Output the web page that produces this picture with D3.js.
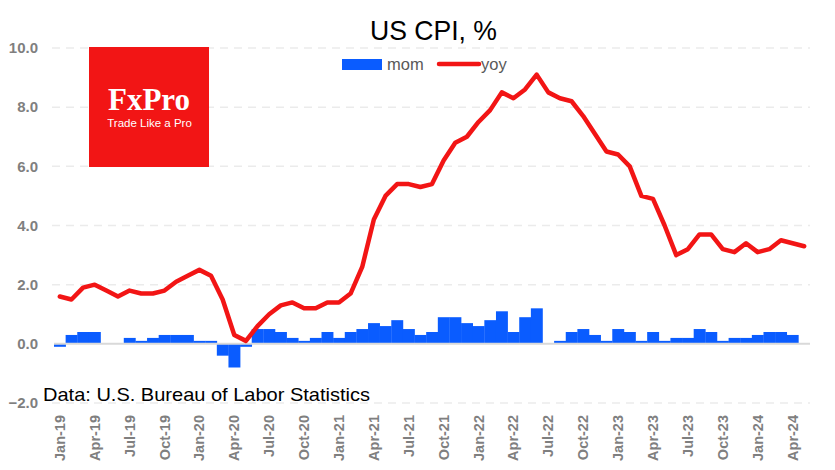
<!DOCTYPE html>
<html>
<head>
<meta charset="utf-8">
<script src="https://cdn.jsdelivr.net/npm/d3@7"></script>
<style>
  html, body { margin: 0; padding: 0; background: #ffffff; }
  svg { display: block; }
</style>
</head>
<body>
<svg id="chart" width="835" height="470"></svg>
<script>
// ---- Data ----
const months = [
  "Jan-19","Feb-19","Mar-19","Apr-19","May-19","Jun-19","Jul-19","Aug-19","Sep-19","Oct-19","Nov-19","Dec-19",
  "Jan-20","Feb-20","Mar-20","Apr-20","May-20","Jun-20","Jul-20","Aug-20","Sep-20","Oct-20","Nov-20","Dec-20",
  "Jan-21","Feb-21","Mar-21","Apr-21","May-21","Jun-21","Jul-21","Aug-21","Sep-21","Oct-21","Nov-21","Dec-21",
  "Jan-22","Feb-22","Mar-22","Apr-22","May-22","Jun-22","Jul-22","Aug-22","Sep-22","Oct-22","Nov-22","Dec-22",
  "Jan-23","Feb-23","Mar-23","Apr-23","May-23","Jun-23","Jul-23","Aug-23","Sep-23","Oct-23","Nov-23","Dec-23",
  "Jan-24","Feb-24","Mar-24","Apr-24","May-24"
];
const mom = [
  -0.1,0.3,0.4,0.4,0.0,0.0,0.2,0.1,0.2,0.3,0.3,0.3,
  0.1,0.1,-0.4,-0.8,-0.1,0.5,0.5,0.4,0.2,0.1,0.2,0.4,
  0.2,0.4,0.5,0.7,0.6,0.8,0.5,0.3,0.4,0.9,0.9,0.7,
  0.6,0.8,1.1,0.4,0.9,1.2,0.0,0.1,0.4,0.5,0.3,0.1,
  0.5,0.4,0.1,0.4,0.1,0.2,0.2,0.5,0.4,0.1,0.2,0.2,
  0.3,0.4,0.4,0.3,0.0
];
const yoy = [
  1.6,1.5,1.9,2.0,1.8,1.6,1.8,1.7,1.7,1.8,2.1,2.3,
  2.5,2.3,1.5,0.3,0.1,0.6,1.0,1.3,1.4,1.2,1.2,1.4,
  1.4,1.7,2.6,4.2,5.0,5.4,5.4,5.3,5.4,6.2,6.8,7.0,
  7.5,7.9,8.5,8.3,8.6,9.1,8.5,8.3,8.2,7.7,7.1,6.5,
  6.4,6.0,5.0,4.9,4.0,3.0,3.2,3.7,3.7,3.2,3.1,3.4,
  3.1,3.2,3.5,3.4,3.3
];
const yTicks = [-2, 0, 2, 4, 6, 8, 10];
const xTickLabels = months.filter((m, i) => i % 3 === 0);

// ---- Layout ----
const svg = d3.select("#chart");
const plotLeft = 54, plotRight = 810, plotTop = 48, plotBottom = 403;

const x = d3.scaleBand().domain(months).range([plotLeft, plotRight]).padding(0);
const y = d3.scaleLinear().domain([-2, 10]).range([plotBottom, plotTop]);

const gray = "#7f7f7f";

// gridlines
svg.append("g").selectAll("line").data(yTicks.filter(d => d !== 0)).join("line")
  .attr("x1", plotLeft - 2).attr("x2", plotRight)
  .attr("y1", d => y(d)).attr("y2", d => y(d))
  .attr("stroke", "#ebebeb").attr("stroke-width", 1.5)
  .attr("stroke-dasharray", "8,6");

// y tick labels via axis
const yAxis = svg.append("g")
  .attr("transform", `translate(${plotLeft - 16},0)`)
  .call(d3.axisLeft(y).tickValues(yTicks).tickFormat(d3.format(".1f")).tickSize(0).tickPadding(0));
yAxis.select(".domain").remove();
yAxis.selectAll("text")
  .attr("fill", gray).attr("font-family", "Liberation Sans, Arial, sans-serif")
  .attr("font-weight", "bold").attr("font-size", "15px");

// logo
const logo = svg.append("g");
logo.append("rect").attr("x", 89).attr("y", 47).attr("width", 120).attr("height", 120).attr("fill", "#f21515");
logo.append("text").attr("x", 149).attr("y", 110).attr("text-anchor", "middle")
  .attr("font-family", "Liberation Serif, Times New Roman, serif").attr("font-weight", "bold")
  .attr("font-size", "31px").attr("fill", "#ffffff").text("FxPro");
logo.append("text").attr("x", 149.5).attr("y", 126.5).attr("text-anchor", "middle")
  .attr("font-family", "Liberation Sans, Arial, sans-serif")
  .attr("font-size", "11.5px").attr("fill", "#ffffff").text("Trade Like a Pro");

// bars
svg.append("g").selectAll("rect").data(months).join("rect")
  .attr("x", d => x(d))
  .attr("width", x.bandwidth() + 0.3)
  .attr("y", (d, i) => y(Math.max(0, mom[i])))
  .attr("height", (d, i) => Math.abs(y(mom[i]) - y(0)))
  .attr("fill", "#0a5cff");

// zero axis line
svg.append("line").attr("x1", plotLeft).attr("x2", plotRight)
  .attr("y1", y(0)).attr("y2", y(0))
  .attr("stroke", "#d9d9d9").attr("stroke-width", 2);

// yoy line
const line = d3.line()
  .x((d, i) => x(months[i]) + x.bandwidth() / 2)
  .y(d => y(d));
svg.append("path").datum(yoy)
  .attr("d", line).attr("fill", "none")
  .attr("stroke", "#f21515").attr("stroke-width", 4.5)
  .attr("stroke-linejoin", "round").attr("stroke-linecap", "round");

// x axis labels
const xAxis = svg.append("g")
  .attr("transform", `translate(0,415)`)
  .call(d3.axisBottom(x).tickValues(xTickLabels).tickSize(0).tickPadding(0));
xAxis.select(".domain").remove();
xAxis.selectAll("text")
  .attr("transform", "rotate(-90)")
  .attr("text-anchor", "end")
  .attr("x", 0).attr("y", 0).attr("dy", "0.35em")
  .attr("fill", gray).attr("font-family", "Liberation Sans, Arial, sans-serif")
  .attr("font-weight", "bold").attr("font-size", "14.5px");

// title
svg.append("text").attr("x", 370).attr("y", 40)
  .attr("font-family", "Liberation Sans Narrow, Arial Narrow, sans-serif")
  .attr("font-size", "28px").attr("fill", "#000000")
  .attr("textLength", 127).attr("lengthAdjust", "spacingAndGlyphs")
  .text("US CPI, %");

// legend
const lg = svg.append("g");
lg.append("rect").attr("x", 342).attr("y", 59).attr("width", 40).attr("height", 11).attr("fill", "#0a5cff");
lg.append("text").attr("x", 387).attr("y", 70).attr("font-family", "Liberation Sans, Arial, sans-serif")
  .attr("font-size", "16.5px").attr("fill", "#595959").text("mom");
lg.append("line").attr("x1", 439).attr("x2", 479).attr("y1", 64).attr("y2", 64)
  .attr("stroke", "#f21515").attr("stroke-width", 4.5).attr("stroke-linecap", "round");
lg.append("text").attr("x", 481).attr("y", 70).attr("font-family", "Liberation Sans, Arial, sans-serif")
  .attr("font-size", "16.5px").attr("fill", "#595959").text("yoy");

// source
svg.append("text").attr("x", 43).attr("y", 401)
  .attr("font-family", "Liberation Sans, Arial, sans-serif")
  .attr("font-size", "18.5px").attr("fill", "#000000")
  .attr("textLength", 327).attr("lengthAdjust", "spacingAndGlyphs")
  .text("Data: U.S. Bureau of Labor Statistics");
</script>
</body>
</html>
